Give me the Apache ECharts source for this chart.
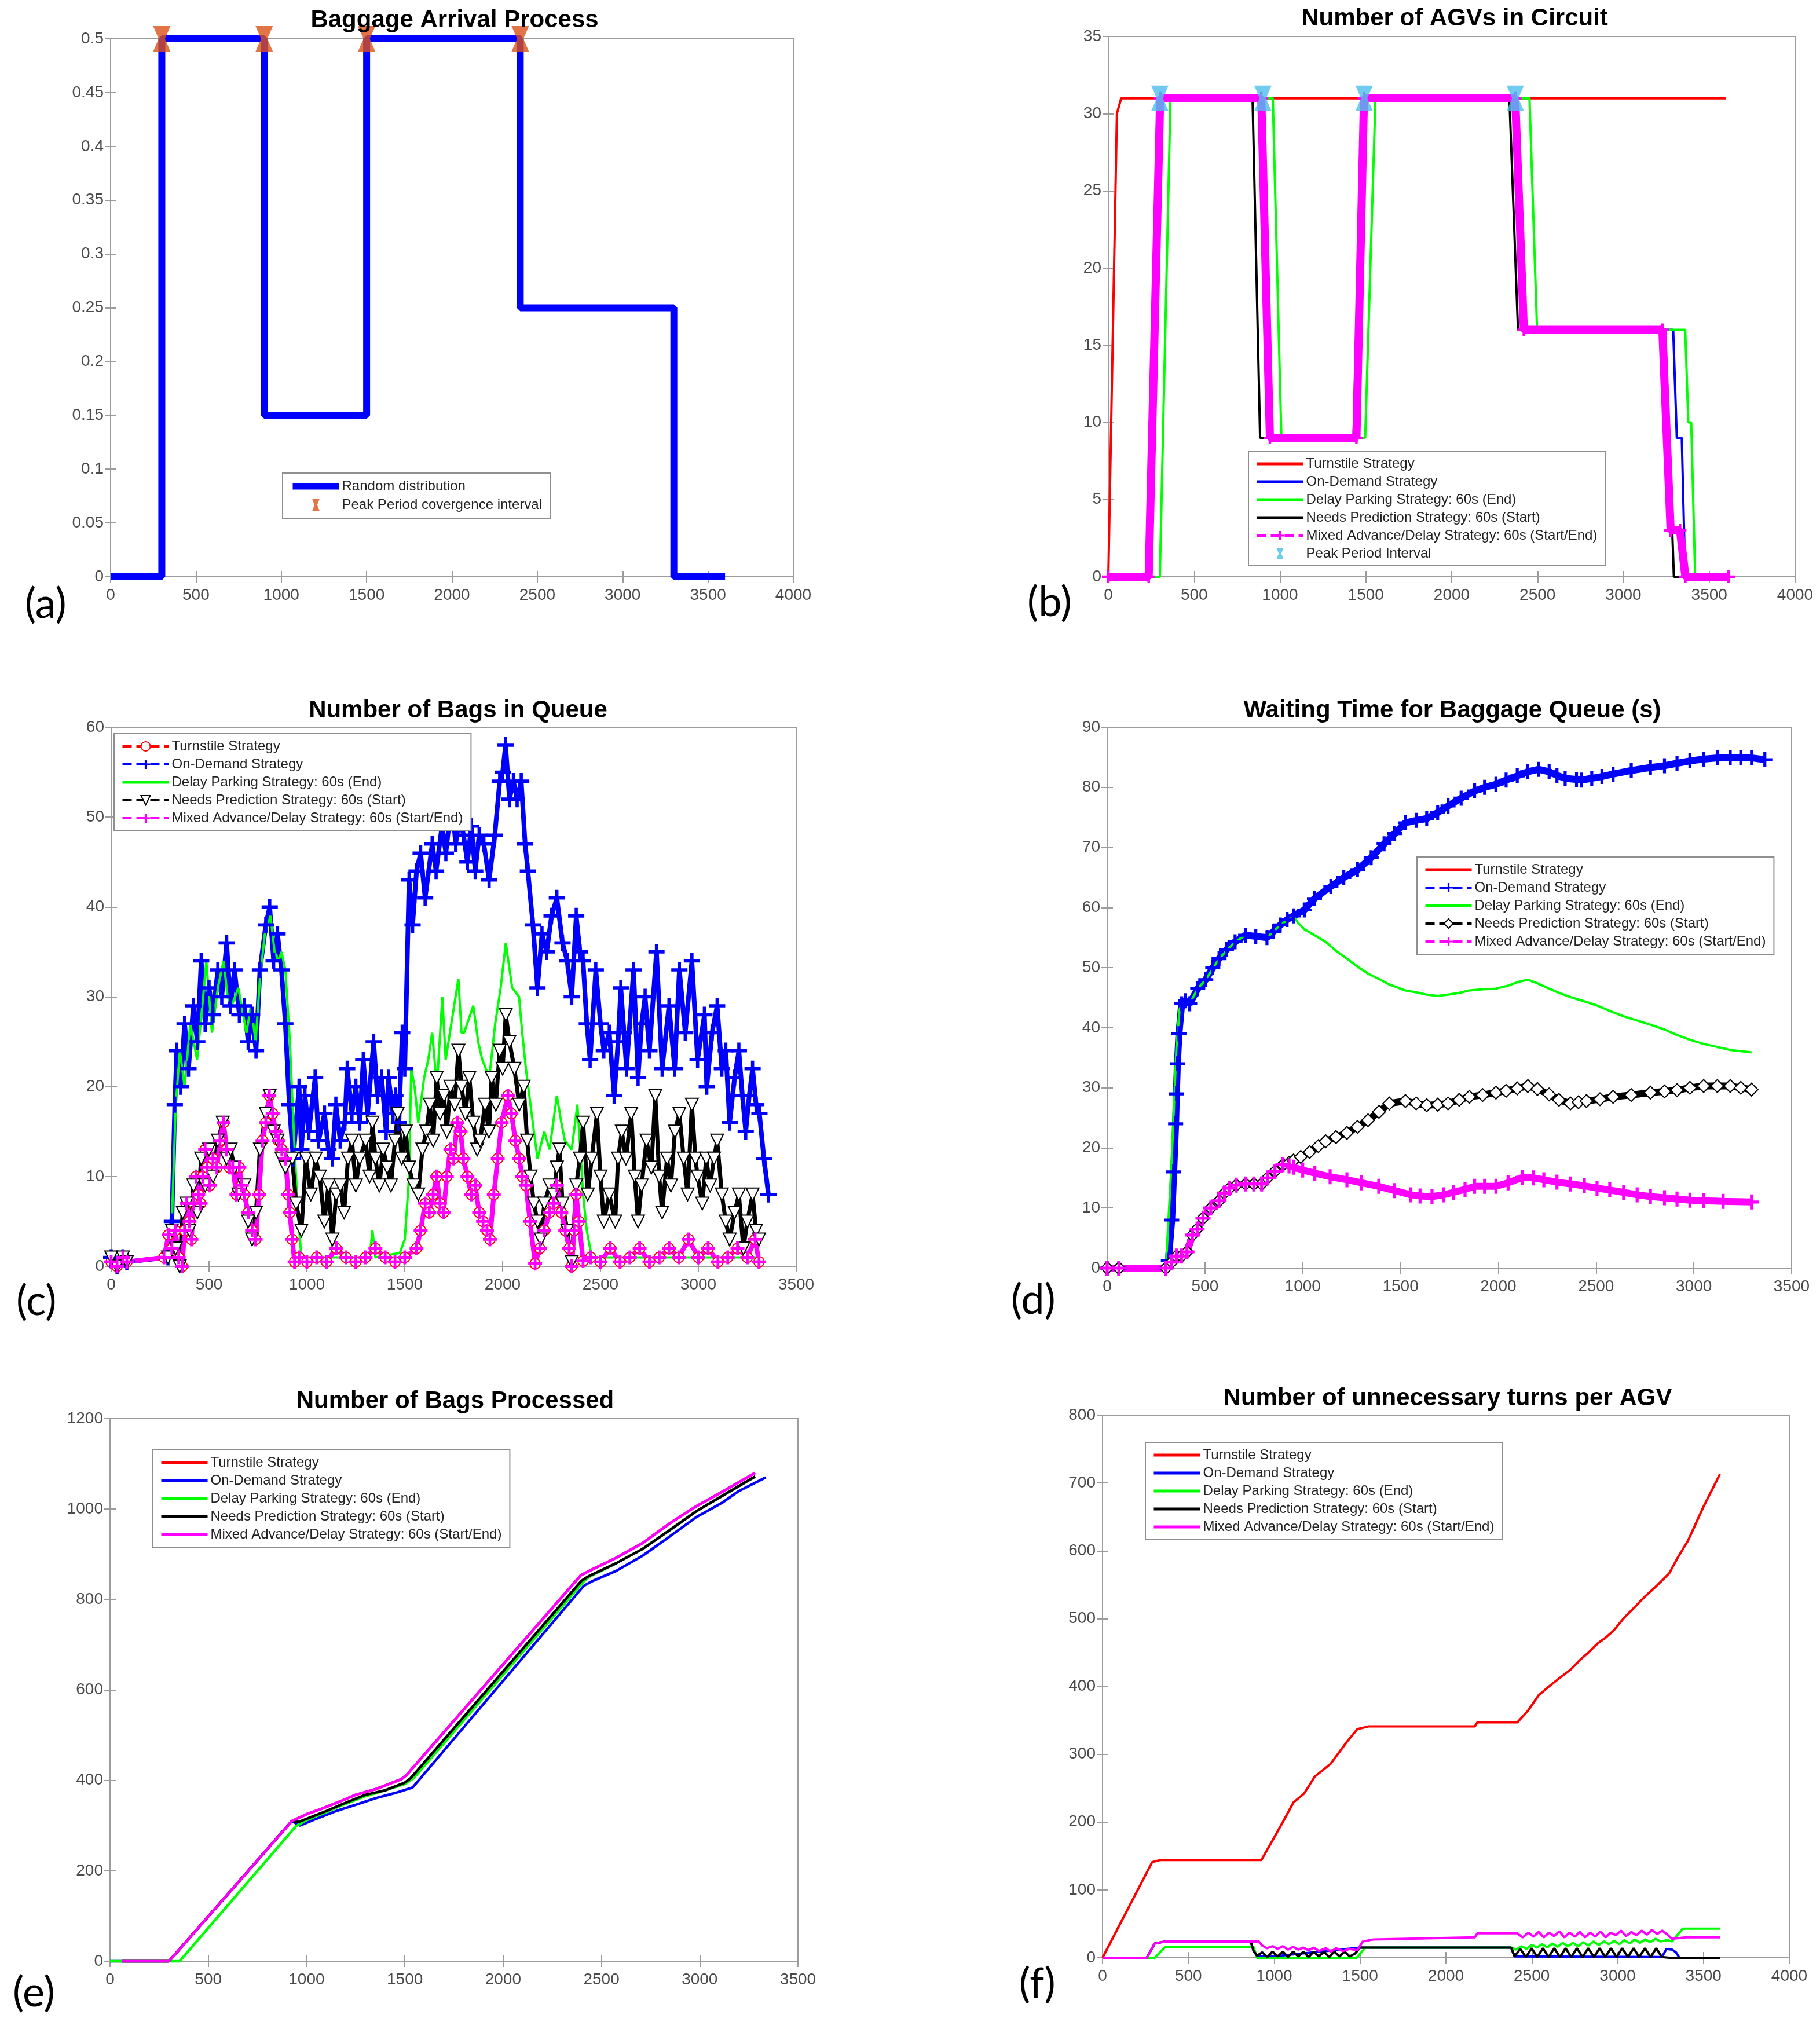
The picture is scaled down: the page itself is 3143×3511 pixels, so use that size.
<!DOCTYPE html>
<html>
<head>
<meta charset="utf-8">
<script src="https://cdn.jsdelivr.net/npm/echarts@6/dist/echarts.min.js"></script>
<style>
body{margin:0;background:#fff;}
#page{position:relative;width:3143px;height:3511px;background:#fff;}
.panel{position:absolute;}
</style>
</head>
<body>
<div id="page">
  <div class="panel" id="arrival" style="left:0;top:0;width:1571px;height:1170px;"></div>
  <div class="panel" id="agvs" style="left:1571px;top:0;width:1572px;height:1170px;"></div>
  <div class="panel" id="queue" style="left:0;top:1170px;width:1571px;height:1170px;"></div>
  <div class="panel" id="wait" style="left:1571px;top:1170px;width:1572px;height:1170px;"></div>
  <div class="panel" id="processed" style="left:0;top:2340px;width:1571px;height:1171px;"></div>
  <div class="panel" id="turns" style="left:1571px;top:2340px;width:1572px;height:1171px;"></div>
</div>
<script>
// ---- data: [time (s), value] ----
var NAMES = ['Turnstile Strategy', 'On-Demand Strategy', 'Delay Parking Strategy: 60s (End)',
             'Needs Prediction Strategy: 60s (Start)', 'Mixed Advance/Delay Strategy: 60s (Start/End)'];

// (a) baggage arrival rate, drawn as steps
var arrivalSteps = [[0,0],[300,0.5],[900,0.15],[1500,0.5],[2400,0.25],[3300,0],[3600,0]];
var arrivalPeaks = [[300,0.5],[900,0.5],[1500,0.5],[2400,0.5]];

// (b) number of AGVs in circuit
var agvTurnstile = [[0,0],[50,30],[75,31],[3596,31]];
var agvOnDemand = [[0,0],[240,0],[300,31],[900,31],[940,9],[1450,9],[1490,31],[2380,31],[2420,16],[3290,16],[3311,9],[3340,9],[3360,0],[3600,0]];
var agvDelay = [[0,0],[300,0],[362,31],[958,31],[1008,9],[1496,9],[1556,31],[2453,31],[2497,16],[3360,16],[3378,10],[3395,10],[3418,0],[3600,0]];
var agvNeeds = [[0,0],[235,0],[286,31],[840,31],[884,9],[1428,9],[1479,31],[2336,31],[2386,16],[3243,16],[3294,0],[3600,0]];
var agvMixed = [[0,0],[235,0],[302,31],[891,31],[941,9],[1445,9],[1489,31],[2370,31],[2420,16],[3227,16],[3275,3],[3330,3],[3361,0],[3613,0]];
var agvPeaks = [[300,31],[900,31],[1490,31],[2370,31]];

// (c) number of bags in queue
var queueOnDemand = [[0,1],[30,0],[60,1],[80,0.5],[290,1],[310,5],[325,18],[335,24],[355,20],[375,27],[395,22],[420,29],[440,25],[460,34],[480,27],[500,31],[520,28],[545,33],[565,30],[590,36],[610,29],[630,33],[655,28],[680,29],[700,25],[720,28],[740,24],[760,33],[790,38],[810,40],[830,34],[850,37],[870,33],[890,27],[910,18],[930,12],[960,20],[972,13],[990,19],[1010,15],[1042,21],[1060,14],[1090,17],[1110,13],[1130,12],[1148,18],[1170,14],[1194,16],[1206,22],[1230,17],[1250,20],[1270,16],[1288,23],[1310,17],[1341,25],[1360,19],[1382,21],[1405,15],[1417,21],[1440,17],[1452,19],[1470,16],[1487,26],[1500,22],[1522,43],[1540,38],[1560,44],[1581,46],[1604,41],[1640,47],[1660,44],[1690,49],[1710,46],[1740,52],[1760,47],[1780,50],[1800,48],[1820,45],[1840,49],[1860,44],[1880,48],[1904,47],[1931,43],[1960,48],[1985,54],[2000,55],[2015,58],[2035,52],[2055,54],[2074,52],[2095,54],[2115,47],[2129,44],[2155,38],[2178,31],[2201,37],[2225,35],[2250,39],[2277,41],[2306,36],[2330,34],[2353,30],[2376,39],[2395,35],[2411,34],[2430,27],[2447,23],[2476,33],[2500,27],[2517,24],[2545,26],[2570,19],[2590,25],[2604,31],[2620,26],[2633,22],[2669,33],[2692,21],[2710,27],[2728,30],[2750,24],[2786,35],[2815,22],[2850,29],[2879,22],[2903,33],[2933,26],[2967,34],[2996,23],[3031,28],[3043,20],[3070,26],[3096,29],[3120,22],[3140,24],[3160,16],[3185,21],[3207,24],[3225,19],[3242,15],[3260,19],[3277,22],[3295,18],[3312,17],[3335,12],[3358,8]];
var queueDelay = [[0,0.5],[70,0.5],[290,1],[304,1],[330,18],[351,24],[375,20],[404,27],[439,23],[470,30],[486,34],[515,26],[545,31],[574,34],[595,30],[615,29],[650,31],[691,26],[714,29],[738,25],[760,32],[785,37],[814,39],[835,35],[855,34],[870,35],[890,33],[913,25],[935,14],[954,6],[972,1],[1000,1],[1320,1],[1335,4],[1350,1],[1475,1.5],[1500,3],[1522,10],[1533,22],[1550,20],[1569,16],[1599,21],[1620,23],[1640,26],[1664,20],[1692,30],[1709,23],[1745,28],[1774,32],[1790,26],[1803,26],[1850,29],[1875,25],[1896,23],[1932,21],[1962,27],[1990,31],[2016,36],[2049,31],[2084,30],[2100,26],[2119,22],[2154,16],[2178,12],[2213,15],[2240,13],[2277,19],[2300,16],[2318,14],[2353,13],[2382,18],[2400,12],[2411,8],[2430,4],[2447,2],[2460,1],[3310,1]];
var queueNeeds = [[0,1],[30,0],[60,1],[80,0.5],[290,1],[310,4],[330,2],[350,0],[365,6],[385,7],[400,4],[420,9],[440,6],[460,12],[480,9],[500,13],[520,10],[545,14],[570,16],[590,12],[610,13],[630,11],[650,8],[680,9],[700,5],[720,3],[740,6],[760,13],[790,17],[810,19],[830,15],[850,14],[870,12],[890,11],[925,12],[945,7],[972,4],[995,12],[1020,8],[1045,12],[1066,10],[1089,5],[1110,9],[1130,3],[1150,8],[1171,9],[1190,6],[1210,12],[1230,14],[1250,9],[1270,12],[1300,14],[1320,10],[1335,16],[1350,12],[1370,9],[1390,13],[1410,11],[1429,9],[1450,14],[1464,17],[1485,12],[1505,15],[1522,11],[1545,9],[1569,8],[1590,13],[1610,15],[1628,18],[1645,14],[1663,21],[1680,17],[1700,19],[1715,15],[1733,20],[1755,18],[1774,24],[1790,20],[1810,17],[1830,21],[1850,16],[1870,13],[1885,14],[1910,18],[1930,15],[1944,21],[1965,18],[1985,24],[2000,22],[2016,28],[2035,25],[2060,22],[2085,18],[2108,20],[2125,14],[2143,10],[2160,7],[2178,5],[2195,3],[2213,7],[2240,9],[2260,8],[2277,11],[2290,13],[2306,7],[2330,4],[2353,0.5],[2376,9],[2395,12],[2411,16],[2435,8],[2455,12],[2482,17],[2500,10],[2517,5],[2545,8],[2575,5],[2590,12],[2609,15],[2630,12],[2657,17],[2675,10],[2692,5],[2710,9],[2735,14],[2760,11],[2780,19],[2800,10],[2815,6],[2840,12],[2860,9],[2880,15],[2903,17],[2925,12],[2945,8],[2967,18],[2985,12],[2996,10],[3020,7],[3040,12],[3060,9],[3080,12],[3096,14],[3120,8],[3140,5],[3160,3],[3185,6],[3207,8],[3230,2],[3250,5],[3277,8],[3295,4],[3310,3]];
var queueMixed = [[0,0.5],[30,0],[60,1],[80,0.5],[270,1],[293,3.5],[310,2],[328,4],[345,1],[363,0],[375,4],[386,7],[400,5],[410,3],[422,7],[433,10],[445,8],[457,7],[468,10],[480,13],[490,11],[503,9],[520,12],[540,11],[556,14],[574,16],[590,13],[605,11],[621,11],[640,8],[655,11],[667,9],[680,8],[700,6],[720,4],[738,3],[755,8],[773,14],[790,16],[808,19],[825,17],[840,15],[855,14],[872,13],[890,12],[905,8],[913,6],[925,3],[937,0.5],[960,1],[1000,0.5],[1050,1],[1100,0.5],[1150,2],[1200,1],[1250,0.5],[1300,1],[1350,2],[1400,1],[1450,0.5],[1500,1],[1560,2],[1581,4],[1604,7],[1625,6],[1645,8],[1663,10],[1680,7],[1698,6],[1715,10],[1733,13],[1750,12],[1768,16],[1785,15],[1800,12],[1820,10],[1840,8],[1860,9],[1880,6],[1900,5],[1920,4],[1935,3],[1955,8],[1975,12],[1995,16],[2027,19],[2045,17],[2065,14],[2085,12],[2100,10],[2119,9],[2140,5],[2166,0.3],[2190,2],[2213,4],[2240,6],[2260,7],[2277,9],[2300,6],[2320,4],[2340,2],[2353,0],[2365,4],[2376,8],[2390,5],[2411,0.6],[2450,1],[2500,0.5],[2550,2],[2600,0.5],[2650,1],[2700,2],[2750,0.5],[2800,1],[2850,2],[2900,1],[2950,3],[3000,1],[3050,2],[3100,0.5],[3150,1],[3200,2],[3250,1],[3290,3],[3310,0.5]];
var queueTurnstile = queueMixed; // red circles sit under the magenta trace

// (d) waiting time for baggage queue (s)
var waitOnDemand = [[0,0],[60,0],[300,0],[313,1.3],[330,8],[340,16],[350,24],[354,29],[359,34],[367,39],[381,44],[400,44.5],[422,44],[463,46.5],[504,48],[540,50],[572,51.5],[610,53],[654,54.3],[708,55.4],[760,55.2],[817,55],[850,56],[885,57.1],[920,58],[953,58.6],[1008,59.6],[1060,61.5],[1144,63.5],[1210,65],[1280,66.3],[1350,68.3],[1416,70.6],[1470,72.3],[1525,74.1],[1580,74.5],[1634,74.8],[1690,75.8],[1743,76.9],[1810,78.2],[1879,79.4],[1930,80],[1988,80.5],[2040,81.2],[2097,81.9],[2150,82.6],[2206,83],[2260,82.6],[2300,82],[2342,81.5],[2400,81.3],[2424,81.2],[2478,81.5],[2530,81.8],[2587,82.2],[2680,82.8],[2778,83.3],[2850,83.6],[2914,84],[2980,84.4],[3050,84.7],[3120,84.9],[3186,85],[3240,84.9],[3295,84.9],[3363,84.6]];
var waitDelay = [[0,0],[300,0],[330,18],[354,36.6],[370,43],[387,44.4],[422,44],[463,46.5],[504,48],[572,51.5],[654,54.3],[708,55.4],[817,55],[885,57.1],[953,58.6],[975,57.5],[1008,56.4],[1060,55.4],[1117,54.3],[1170,52.8],[1226,51.5],[1280,50.2],[1334,49],[1390,48.1],[1443,47.2],[1525,46.2],[1580,45.9],[1634,45.5],[1690,45.3],[1743,45.5],[1800,45.8],[1852,46.2],[1920,46.4],[1988,46.5],[2050,47],[2100,47.6],[2151,48],[2200,47.4],[2260,46.5],[2310,45.8],[2369,45.1],[2440,44.4],[2505,43.7],[2570,42.8],[2641,41.9],[2710,41.2],[2778,40.5],[2850,39.7],[2914,38.8],[2980,38],[3050,37.3],[3120,36.8],[3186,36.3],[3240,36.1],[3295,35.9]];
var waitNeeds = [[0,0],[60,0],[300,0],[330,1],[354,2],[380,2],[408,2.7],[436,5.5],[460,6.5],[490,8.3],[530,10],[572,11.2],[600,12.5],[626,13.3],[660,13.8],[708,14],[750,14],[790,14],[820,15],[858,16.1],[899,17.2],[930,17.5],[953,17.9],[990,18.5],[1035,19.3],[1080,20.3],[1117,21.1],[1170,21.8],[1226,22.5],[1280,23.5],[1334,24.6],[1390,26],[1443,27.4],[1525,27.8],[1580,27.4],[1634,27.1],[1690,27.2],[1743,27.4],[1800,28],[1852,28.5],[1920,28.8],[1988,29.2],[2040,29.5],[2097,29.9],[2151,30.3],[2200,29.8],[2260,28.9],[2310,28],[2369,27.4],[2410,27.6],[2451,27.8],[2520,28.1],[2587,28.5],[2680,28.8],[2778,29.2],[2850,29.4],[2914,29.6],[2980,30],[3050,30.3],[3120,30.3],[3186,30.3],[3240,30],[3295,29.7]];
var waitMixed = [[0,0],[60,0],[300,0],[330,1],[354,2],[380,2],[408,2.7],[436,5.5],[460,6.5],[490,8.3],[530,10],[572,11.2],[600,12.5],[626,13.3],[660,13.8],[708,14],[750,14],[790,14],[820,15],[858,16.1],[899,17.2],[930,17],[953,16.8],[1000,16.3],[1062,15.8],[1140,15.2],[1226,14.7],[1300,14.2],[1389,13.6],[1470,12.9],[1552,12.2],[1600,12],[1661,11.9],[1720,12.2],[1770,12.6],[1830,13.1],[1879,13.6],[1930,13.6],[1988,13.6],[2050,14.2],[2124,15.1],[2180,15],[2233,14.7],[2300,14.3],[2369,14],[2440,13.7],[2505,13.3],[2570,13],[2641,12.6],[2710,12.2],[2778,11.9],[2850,11.7],[2914,11.5],[2980,11.3],[3050,11.2],[3150,11.1],[3295,11]];
var waitTurnstile = waitMixed; // hidden under the magenta trace

// (e) number of bags processed
var procTurnstile = [[60,0],[300,0],[925,310],[1000,325],[1076,337],[1185,356],[1250,368],[1348,380],[1420,392],[1484,403],[1511,413],[2396,854],[2437,863],[2574,892],[2710,925],[2846,968],[2982,1006],[3118,1039],[3282,1080]];
var procOnDemand = [[0,0],[300,0],[925,310],[967,300],[1050,315],[1150,332],[1250,346],[1348,360],[1450,372],[1539,384],[2410,830],[2450,840],[2574,863],[2710,897],[2846,939],[2982,982],[3118,1015],[3200,1040],[3336,1070]];
var procDelay = [[0,0],[354,0],[945,298],[1000,312],[1100,330],[1185,346],[1300,365],[1400,378],[1500,392],[1545,405],[2410,840],[2437,850],[2574,880],[2710,912],[2846,953],[2982,995],[3118,1030],[3282,1072]];
var procNeeds = [[60,0],[300,0],[925,310],[960,308],[1030,320],[1100,332],[1185,348],[1300,368],[1400,378],[1500,395],[1530,405],[2400,842],[2437,852],[2574,880],[2710,912],[2846,953],[2982,995],[3118,1030],[3282,1072]];
var procMixed = procTurnstile;

// (f) number of unnecessary turns per AGV
var turnsTurnstile = [[0,0],[289,141],[335,144],[925,144],[988,172],[1050,200],[1112,229],[1174,242],[1236,267],[1329,286],[1422,318],[1484,337],[1547,341],[2168,341],[2183,347],[2416,347],[2480,365],[2540,387],[2600,400],[2665,413],[2727,425],[2789,441],[2830,450],[2882,463],[2930,472],[2975,482],[3037,501],[3100,517],[3161,533],[3230,549],[3301,567],[3350,590],[3410,615],[3500,665],[3596,713]];
var turnsNeeds = [[0,0],[258,0],[304,21],[366,24],[863,24],[880,10],[900,3],[930,8],[960,1],[990,9],[1020,2],[1050,9],[1080,1],[1110,9],[1140,2],[1170,9],[1200,1],[1230,9],[1260,2],[1290,9],[1320,1],[1350,9],[1380,2],[1410,9],[1440,2],[1470,6],[1500,15],[2380,15],[2400,2],[2433,13],[2466,1],[2499,14],[2532,1],[2565,14],[2598,1],[2631,14],[2664,1],[2697,14],[2730,1],[2763,14],[2796,1],[2829,14],[2862,1],[2895,14],[2928,1],[2961,14],[2994,1],[3027,14],[3060,1],[3093,14],[3126,1],[3159,14],[3192,1],[3225,14],[3258,1],[3300,0],[3596,0]];
var turnsOnDemand = [[0,0],[258,0],[304,21],[366,24],[863,24],[880,10],[900,3],[960,1],[1500,15],[2380,15],[2400,2],[3258,1],[3285,13],[3317,12],[3340,8],[3360,0],[3596,0]];
var turnsDelay = [[0,0],[304,0],[366,16],[880,16],[900,0],[1480,0],[1531,15],[2380,15],[2410,12],[2440,17],[2470,13],[2500,19],[2530,15],[2560,20],[2590,15],[2620,21],[2650,16],[2680,22],[2710,17],[2740,22],[2770,17],[2800,23],[2830,18],[2860,24],[2890,19],[2920,24],[2950,20],[2980,25],[3010,20],[3040,26],[3070,21],[3100,27],[3130,22],[3160,27],[3190,23],[3220,28],[3250,24],[3290,26],[3317,24],[3379,43],[3596,43]];
var turnsMixed = [[0,0],[258,0],[304,21],[366,24],[910,24],[930,18],[957,14],[990,17],[1020,13],[1050,17],[1080,12],[1110,16],[1140,12],[1170,15],[1200,11],[1230,15],[1260,10],[1300,14],[1330,9],[1360,14],[1400,10],[1440,13],[1484,11],[1516,24],[1578,27],[2168,30],[2183,36],[2416,36],[2447,30],[2480,37],[2510,31],[2540,38],[2570,30],[2600,37],[2630,32],[2660,39],[2690,30],[2720,37],[2750,31],[2780,38],[2810,30],[2840,37],[2870,31],[2900,39],[2930,30],[2960,37],[2990,33],[3020,40],[3050,32],[3080,38],[3110,33],[3140,40],[3170,34],[3200,41],[3230,35],[3260,40],[3290,34],[3317,28],[3400,30],[3596,30]];

// ---- shared look ----
var FONT = '"Liberation Sans", Arial, Helvetica, sans-serif';
var AXC = '#9c9c9c', LBLC = '#4a4a4a';
var PLUS = 'path://M4,0H6V4H10V6H6V10H4V6H0V4H4Z';
var HOURGLASS = 'path://M0,0L10,0L6.8,8L10,16L0,16L3.2,8Z';
var RED = '#ff0000', BLUE = '#0000ff', GREEN = '#00ff00', BLACK = '#000000', MAGENTA = '#ff00ff';

function frame(g, xmax, xint, ymax, yint) {
    function ax(pos, showLabel, max, step, margin) {
        return {
            type: 'value', position: pos, min: 0, max: max, interval: step,
            axisLine: {show: false}, splitLine: {show: false},
            axisTick: {inside: true, length: 10, lineStyle: {color: AXC, width: 2}},
            axisLabel: {show: showLabel, fontSize: 28, fontFamily: FONT, color: LBLC, margin: margin,
                        formatter: function (v) { return String(v); }}
        };
    }
    return {
        grid: {left: g[0], top: g[1], width: g[2], height: g[3], show: true,
               borderColor: AXC, borderWidth: 2, backgroundColor: '#fff', outerBoundsMode: 'none'},
        xAxis: [ax('bottom', true, xmax, xint, 18), ax('top', false, xmax, xint, 0)],
        yAxis: [ax('left', true, ymax, yint, 12), ax('right', false, ymax, yint, 0)]
    };
}

// legend entries: plain line sample, dashed line with marker
function plain(name, w) { return {name: name, itemStyle: {opacity: 0}, lineStyle: {width: w || 5, type: 'solid'}}; }
function dashed(name) { return {name: name, lineStyle: {type: 'dashed', width: 4}}; }
function plainAll(w) { return NAMES.map(function (n) { return plain(n, w); }); }

function legend(left, top, data, gap, pad) {
    return {
        orient: 'vertical', left: left, top: top, data: data, selectedMode: false, symbolKeepAspect: true,
        itemWidth: 80, itemHeight: 20, itemGap: gap, padding: [pad, 14, pad, 12],
        backgroundColor: '#fff', borderColor: '#8f8f8f', borderWidth: 2, borderRadius: 0,
        textStyle: {fontSize: 24, fontFamily: FONT, color: '#222'}
    };
}

function heading(x, y, text, label, lx, ly) {
    return [
        {type: 'text', x: x, y: y, z: 10, style: {text: text, font: 'bold 42px ' + FONT, fill: '#000', align: 'center', verticalAlign: 'middle'}},
        {type: 'text', x: lx, y: ly, z: 10, style: {text: label, font: '72px Lato, "Open Sans", sans-serif', fill: '#000'}}
    ];
}

function line(name, data, color, width, extra) {
    var s = {type: 'line', name: name, data: data, symbol: 'none', clip: false,
             lineStyle: {color: color, width: width}, itemStyle: {color: color}};
    for (var k in extra) s[k] = extra[k];
    return s;
}

function build(id, f, lg, gr, series) {
    var chart = echarts.init(document.getElementById(id), null, {renderer: 'canvas'});
    chart.setOption({
        animation: false, backgroundColor: '#fff',
        grid: f.grid, xAxis: f.xAxis, yAxis: f.yAxis,
        legend: lg, graphic: gr, series: series
    });
}

// (a)
build('arrival', frame([191, 67, 1179, 929], 4000, 500, 0.5, 0.05),
    legend(488, 817, [plain('Random distribution', 11), 'Peak Period covergence interval'], 8, 11),
    heading(785, 35, 'Baggage Arrival Process', '(a)', 43, 1008),
    [
        line('Random distribution', arrivalSteps, BLUE, 12, {step: 'end'}),
        {type: 'scatter', name: 'Peak Period covergence interval', data: arrivalPeaks, symbol: HOURGLASS,
         symbolSize: [30, 44], itemStyle: {color: '#d95319'}, z: 3}
    ]);

// (b)
build('agvs', frame([343, 63, 1186, 933], 4000, 500, 35, 5),
    legend(585, 780, [plain(NAMES[0], 5), plain(NAMES[1], 5), plain(NAMES[2], 5), plain(NAMES[3], 5),
        dashed(NAMES[4]), 'Peak Period Interval'], 7, 9),
    heading(941, 32, 'Number of AGVs in Circuit', '(b)', 203, 1005),
    [
        line(NAMES[0], agvTurnstile, RED, 4),
        line(NAMES[1], agvOnDemand, BLUE, 4),
        line(NAMES[2], agvDelay, GREEN, 4),
        line(NAMES[3], agvNeeds, BLACK, 4),
        line(NAMES[4], agvMixed, MAGENTA, 14, {symbol: PLUS, symbolSize: 22, showSymbol: true}),
        {type: 'scatter', name: 'Peak Period Interval', data: agvPeaks, symbol: HOURGLASS,
         symbolSize: [30, 44], itemStyle: {color: '#4dbeee'}, z: 3}
    ]);

// (c) markers are dense in the original, so the traces are drawn heavy
build('queue', frame([192, 86, 1183, 931], 3500, 500, 60, 10),
    legend(197, 97, [dashed(NAMES[0]), dashed(NAMES[1]), plain(NAMES[2], 5), dashed(NAMES[3]), dashed(NAMES[4])], 7, 10),
    heading(791, 57, 'Number of Bags in Queue', '(c)', 28, 1042),
    [
        line(NAMES[0], queueTurnstile, RED, 7, {symbol: 'emptyCircle', symbolSize: 18, showSymbol: true,
            itemStyle: {color: RED, borderWidth: 3}}),
        line(NAMES[1], queueOnDemand, BLUE, 8, {symbol: PLUS, symbolSize: 28, showSymbol: true}),
        line(NAMES[2], queueDelay, GREEN, 4),
        line(NAMES[3], queueNeeds, BLACK, 7, {symbol: 'emptyTriangle', symbolRotate: 180, symbolSize: 22,
            showSymbol: true, itemStyle: {color: BLACK, borderWidth: 3}}),
        line(NAMES[4], queueMixed, MAGENTA, 8, {symbol: PLUS, symbolSize: 24, showSymbol: true})
    ]);

// (d)
build('wait', frame([341, 86, 1182, 934], 3500, 500, 90, 10),
    legend(876, 310, [plain(NAMES[0], 5), dashed(NAMES[1]), plain(NAMES[2], 5), dashed(NAMES[3]), dashed(NAMES[4])], 7, 10),
    heading(937, 57, 'Waiting Time for Baggage Queue (s)', '(d)', 175, 1040),
    [
        line(NAMES[0], waitTurnstile, RED, 4),
        line(NAMES[1], waitOnDemand, BLUE, 12, {symbol: PLUS, symbolSize: 26, showSymbol: true}),
        line(NAMES[2], waitDelay, GREEN, 4),
        line(NAMES[3], waitNeeds, BLACK, 12, {symbol: 'emptyDiamond', symbolSize: 22, showSymbol: true,
            itemStyle: {color: BLACK, borderWidth: 3}}),
        line(NAMES[4], waitMixed, MAGENTA, 12, {symbol: PLUS, symbolSize: 26, showSymbol: true})
    ]);

// (e)
build('processed', frame([190, 110, 1188, 937], 3500, 500, 1200, 200),
    legend(264, 164, plainAll(5), 7, 10),
    heading(786, 80, 'Number of Bags Processed', '(e)', 22, 1066),
    [
        line(NAMES[0], procTurnstile, RED, 4.5),
        line(NAMES[1], procOnDemand, BLUE, 4.5),
        line(NAMES[2], procDelay, GREEN, 4.5),
        line(NAMES[3], procNeeds, BLACK, 4.5),
        line(NAMES[4], procMixed, MAGENTA, 4.5)
    ]);

// (f)
build('turns', frame([333, 104, 1186, 937], 4000, 500, 800, 100),
    legend(407, 151, plainAll(5), 7, 10),
    heading(929, 75, 'Number of unnecessary turns per AGV', '(f)', 189, 1051),
    [
        line(NAMES[0], turnsTurnstile, RED, 4),
        line(NAMES[1], turnsOnDemand, BLUE, 4),
        line(NAMES[2], turnsDelay, GREEN, 4),
        line(NAMES[3], turnsNeeds, BLACK, 4),
        line(NAMES[4], turnsMixed, MAGENTA, 4)
    ]);
</script>
</body>
</html>
